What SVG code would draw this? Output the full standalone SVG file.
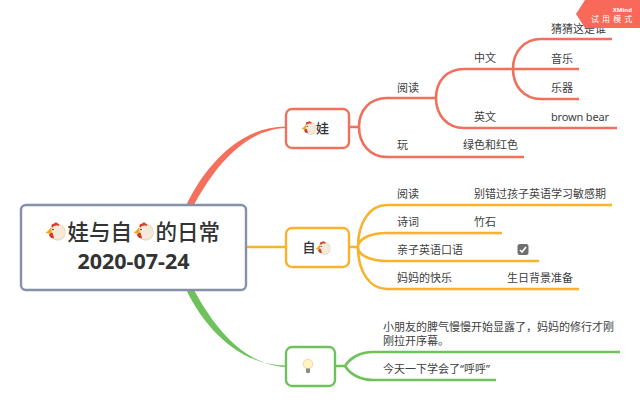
<svg xmlns="http://www.w3.org/2000/svg" xmlns:xlink="http://www.w3.org/1999/xlink" width="640" height="405" viewBox="0 0 640 405">
<style>
text{font-family:"Noto Sans CJK SC","Noto Sans",sans-serif;fill:#404040;font-size:11px}
.lbl{font-family:"Noto Sans","Noto Sans CJK SC",sans-serif}
.r{fill:none;stroke:#f0705c;stroke-width:2.600}
.y{fill:none;stroke:#f9b22b;stroke-width:2.600}
.g{fill:none;stroke:#6fc15c;stroke-width:2.600}
.box{fill:#fff;stroke-width:2.400}
.root{font-size:21.500px;font-weight:500;fill:#333}
.date{font-family:"Noto Sans",sans-serif;font-size:21.500px;font-weight:700;fill:#333}
.topic{font-size:13px;font-weight:500;fill:#333}
.wm{fill:#fff;font-size:8px;letter-spacing:3.100px}
</style>
<defs>
<symbol id="chicken" viewBox="0 0 20 20">
<path d="M5 8C5 4 8 3 11 3C16 3 20 7 20 11.500C20 16 16 19 12 19C8 19 6 17 5.500 13Z" fill="#f5ead8" stroke="#cdb89c" stroke-width=".6"/>
<path d="M6 5C6 2.500 8 2.500 8.500 3C9 1 11.500 1 12.500 3C14 3 14 4.500 13 5C11 4 8 4.500 7 7Z" fill="#d8402e"/>
<path d="M6 6.500L0 12L6 13Z" fill="#f3a81c"/>
<path d="M3.500 13L7 11.500L8.500 17C6 18 3.500 16 3.500 13Z" fill="#cf3a2c"/>
<circle cx="7.500" cy="8.500" r=".8" fill="#333"/>
</symbol>
</defs>
<rect width="640" height="405" fill="#fff"/>
<g id="connectors">
<path d="M186 206C201 173 236 126.500 286 126.500L286 128C240 129.500 209 177 193.500 206Z" fill="#f4705c"/>
<path d="M246 247H286" class="y"/>
<path d="M186 289C201 322 236 365.500 286 365.500L286 367C240 365.500 209 318 193.500 289Z" fill="#6fc15c"/>
<path d="M349 127H359M359 127C359 110 370 98 387 98H436M359 127C359 144 370 157 387 157H524" class="r"/>
<path d="M436 98C436 81 447 69 464 69H513M436 98C436 115 447 128 464 128H617" class="r"/>
<path d="M513 69C513 52 524 39 541 39H612M513 69H579M513 69C513 86 524 99 541 99H579" class="r"/>
<path d="M349 247H358M358 247C358 222 370 205 387 205H612M358 247C358 239 370 233 387 233H502M358 247C358 255 370 261 387 261H539M358 247C358 272 370 289 387 289H579" class="y"/>
<path d="M335 366H345M345 366C350 358 360 352 373 352H620M345 366C350 374 360 380 373 380H496" class="g"/>
</g>
<g id="root">
<rect x="21" y="205" width="225" height="85" rx="5" class="box" stroke="#8690a8"/>
<use xlink:href="#chicken" href="#chicken" x="45.500" y="221" width="20" height="20"/>
<text x="67.500" y="239.500" class="root">娃与自</text>
<use xlink:href="#chicken" href="#chicken" x="133.500" y="221" width="20" height="20"/>
<text x="155.500" y="239.500" class="root">的日常</text>
<text x="133.500" y="269" text-anchor="middle" class="date">2020-07-24</text>
</g>
<g id="node-wa">
<rect x="286" y="109" width="63" height="39" rx="6" class="box" stroke="#f0705c"/>
<use xlink:href="#chicken" href="#chicken" x="301.500" y="120" width="15" height="15"/>
<text x="316" y="133" class="topic">娃</text>
</g>
<g id="node-zi">
<rect x="286" y="228" width="63" height="39" rx="6" class="box" stroke="#f9b22b"/>
<text x="302.500" y="252" class="topic">自</text>
<use xlink:href="#chicken" href="#chicken" x="315.500" y="240" width="15" height="15"/>
</g>
<g id="node-bulb">
<rect x="286" y="347" width="49" height="39" rx="6" class="box" stroke="#6fc15c"/>
<circle cx="308" cy="364" r="4.800" fill="#fdf3c4" stroke="#ecd58a" stroke-width=".8"/>
<path d="M306 368.500H310V372.500Q308 374 306 372.500Z" fill="#8a8a8a"/>
</g>
<g id="labels-red">
<text x="397" y="92">阅读</text>
<text x="474" y="62">中文</text>
<text x="551" y="33">猜猜这是谁</text>
<text x="551" y="63">音乐</text>
<text x="551" y="92">乐器</text>
<text x="474" y="121">英文</text>
<text x="551" y="121" class="lbl" textLength="58">brown bear</text>
<text x="397" y="149">玩</text>
<text x="463" y="149">绿色和红色</text>
</g>
<g id="labels-yellow">
<text x="397" y="198">阅读</text>
<text x="474" y="198">别错过孩子英语学习敏感期</text>
<text x="397" y="226">诗词</text>
<text x="474" y="226">竹石</text>
<text x="397" y="254">亲子英语口语</text>
<rect x="517.500" y="244" width="11" height="11" rx="2.500" fill="#6f6f6f"/>
<path d="M520 250L522 252L526 247" fill="none" stroke="#fff" stroke-width="1.600"/>
<text x="397" y="282">妈妈的快乐</text>
<text x="507" y="282">生日背景准备</text>
</g>
<g id="labels-green">
<text x="383" y="331">小朋友的脾气慢慢开始显露了，妈妈的修行才刚</text>
<text x="383" y="345">刚拉开序幕。</text>
<text x="383" y="373">今天一下学会了<tspan class="lbl">“</tspan>呼呼<tspan class="lbl">”</tspan></text>
</g>
<g id="watermark">
<path d="M576 14L585 0H640V28H585Z" fill="#f8695a"/>
<text x="632" y="11.500" text-anchor="end" class="lbl" style="fill:#fff;font-size:6px;font-weight:700">XMind</text>
<text x="591" y="22" class="wm">试用模式</text>
</g>
</svg>
